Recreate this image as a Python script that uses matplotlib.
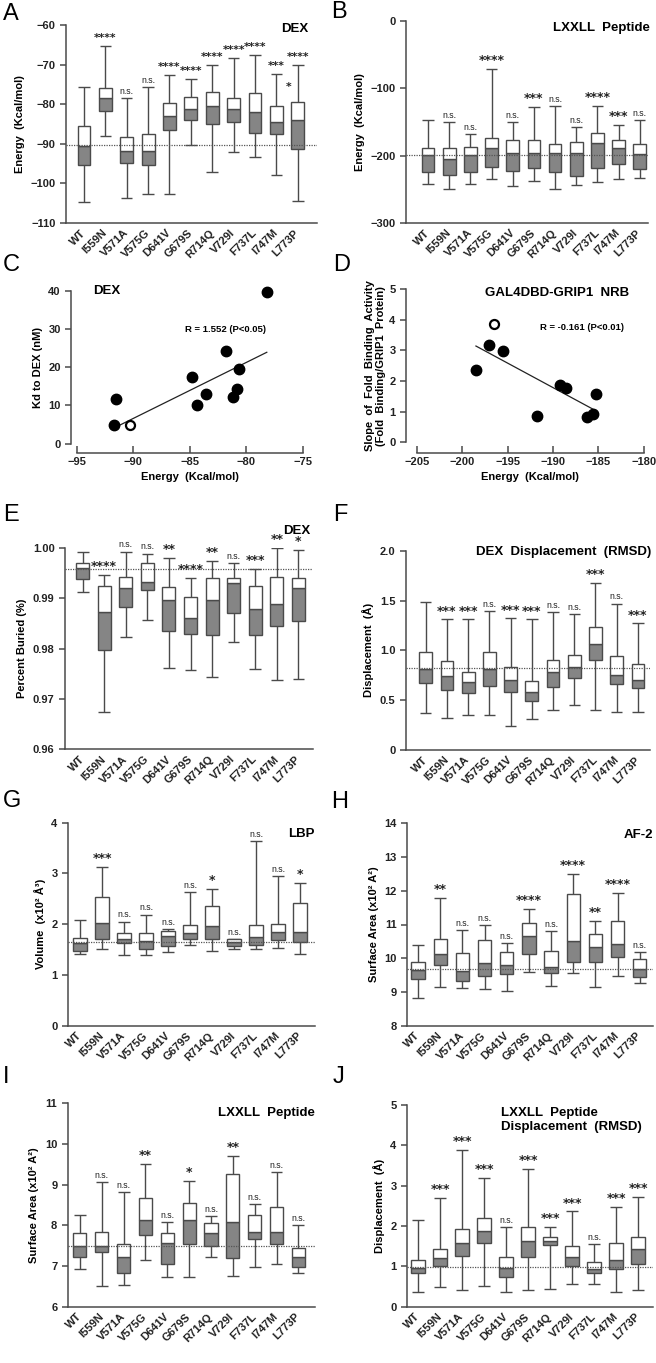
import numpy as np
import matplotlib.pyplot as plt

plt.rcParams['font.family'] = ['Liberation Sans', 'DejaVu Sans']
plt.rcParams['font.weight'] = 'bold'
plt.rcParams['axes.labelweight'] = 'bold'

mutants = ['WT', 'I559N', 'V571A', 'V575G', 'D641V', 'G679S', 'R714Q',
           'V729I', 'F737L', 'I747M', 'L773P']

# A: DEX energy
a_min = [-104.7, -88.0, -103.8, -102.6, -102.6, -90.2, -97.2, -92.0, -93.3, -98.0, -104.4]
a_q1 = [-95.4, -81.6, -94.8, -95.4, -86.6, -84.1, -84.9, -84.6, -87.2, -87.4, -91.3]
a_med = [-90.5, -78.5, -91.8, -91.8, -83.0, -81.3, -80.5, -81.3, -82.0, -84.6, -83.9]
a_q3 = [-85.6, -76.0, -88.4, -87.4, -79.8, -78.3, -76.8, -78.5, -77.2, -80.5, -79.5]
a_max = [-75.6, -65.2, -78.5, -75.6, -72.7, -73.7, -70.0, -68.4, -67.5, -72.4, -70.0]
a_sig = ['', '****', 'n.s.', 'n.s.', '****', '****', '****', '****', '****', '***', '****']
a_ref = -90.4

# B: LXXLL peptide energy
b_min = [-241.4, -248.9, -241.4, -234.0, -245.4, -237.5, -248.9, -243.0, -239.0, -234.0, -232.5]
b_q1 = [-224.6, -229.0, -224.6, -216.7, -222.6, -218.1, -224.6, -230.5, -218.1, -211.7, -219.6]
b_med = [-199.3, -204.3, -199.3, -188.4, -195.8, -195.8, -195.8, -195.8, -180.5, -188.4, -196.8]
b_q3 = [-188.4, -188.4, -187.0, -174.5, -176.0, -176.0, -182.0, -179.5, -167.0, -176.0, -183.0]
b_max = [-147.2, -149.7, -168.0, -71.4, -149.7, -127.4, -126.4, -157.2, -126.4, -154.7, -147.2]
b_sig = ['', 'n.s.', 'n.s.', '****', 'n.s.', '***', 'n.s.', 'n.s.', '****', '***', 'n.s.']
b_ref = -199.0

# C: Kd vs energy
c_energy = [-78.2, -81.8, -80.7, -80.8, -81.2, -84.8, -83.6, -84.4, -91.5, -91.7]
c_kd = [39.7, 24.3, 19.6, 14.3, 12.3, 17.4, 13.1, 10.2, 11.6, 5.0]
c_wt_energy, c_wt_kd = -90.3, 5.0
c_fit_x = [-91.3, -78.2]
c_fit_y = [4.7, 23.9]

# D: binding slope vs energy
d_energy = [-197.1, -195.5, -198.5, -189.2, -188.6, -185.3, -191.8, -186.2, -185.6]
d_slope = [3.16, 2.99, 2.36, 1.87, 1.78, 1.58, 0.87, 0.84, 0.93]
d_wt_energy, d_wt_slope = -196.5, 3.86
d_fit_x = [-198.5, -185.4]
d_fit_y = [3.14, 1.05]

# E: percent buried
e_min = [.9913, .9674, .9823, .9856, .9762, .9758, .9744, .9814, .9760, .9738, .9740]
e_q1 = [.9939, .9797, .9882, .9917, .9836, .9830, .9827, .9870, .9827, .9845, .9855]
e_med = [.9960, .9873, .9920, .9933, .9897, .9861, .9897, .9930, .9879, .9888, .9920]
e_q3 = [.9970, .9925, .9942, .9970, .9922, .9903, .9940, .9940, .9925, .9943, .9940]
e_max = [.9993, .9946, .9993, .9989, .9981, .9940, .9975, .9970, .9958, 1.0000, .9997]
e_sig = ['', '****', 'n.s.', 'n.s.', '**', '****', '**', 'n.s.', '***', '**', '*']
e_ref = .9959

# F: DEX displacement
f_min = [.37, .32, .35, .35, .24, .31, .40, .45, .40, .38, .38]
f_q1 = [.67, .60, .57, .64, .58, .49, .63, .72, .90, .66, .62]
f_med = [.81, .74, .68, .81, .70, .58, .78, .83, 1.06, .75, .70]
f_q3 = [.98, .89, .78, .98, .83, .69, .90, .95, 1.23, .94, .86]
f_max = [1.49, 1.31, 1.31, 1.39, 1.32, 1.31, 1.38, 1.36, 1.68, 1.47, 1.27]
f_sig = ['', '***', '***', 'n.s.', '***', '***', 'n.s.', 'n.s.', '***', 'n.s.', '***']
f_ref = .82

# G: LBP volume
g_min = [1.41, 1.51, 1.39, 1.39, 1.45, 1.59, 1.48, 1.51, 1.51, 1.54, 1.41]
g_q1 = [1.48, 1.70, 1.62, 1.52, 1.58, 1.70, 1.70, 1.58, 1.59, 1.69, 1.64]
g_med = [1.63, 2.02, 1.70, 1.67, 1.76, 1.82, 1.97, 1.64, 1.75, 1.85, 1.84]
g_q3 = [1.73, 2.53, 1.83, 1.83, 1.87, 1.98, 2.36, 1.70, 1.98, 2.00, 2.42]
g_max = [2.09, 3.12, 2.05, 2.19, 1.90, 2.63, 2.69, 1.71, 3.64, 2.95, 2.82]
g_sig = ['', '***', 'n.s.', 'n.s.', 'n.s.', 'n.s.', '*', 'n.s.', 'n.s.', 'n.s.', '*']
g_ref = 1.655

# H: AF-2 surface area
h_min = [8.83, 9.16, 9.11, 9.08, 9.04, 9.58, 9.19, 9.55, 9.14, 9.47, 9.28]
h_q1 = [9.37, 9.81, 9.32, 9.48, 9.52, 10.12, 9.57, 9.88, 9.90, 10.03, 9.43]
h_med = [9.66, 10.14, 9.61, 9.87, 9.81, 10.66, 9.73, 10.52, 10.32, 10.42, 9.69]
h_q3 = [9.90, 10.58, 10.16, 10.54, 10.19, 11.05, 10.21, 11.89, 10.72, 11.11, 9.97]
h_max = [10.39, 11.80, 10.84, 10.98, 10.45, 11.47, 10.81, 12.49, 11.11, 11.94, 10.17]
h_sig = ['', '**', 'n.s.', 'n.s.', 'n.s.', '****', 'n.s.', '****', '**', '****', 'n.s.']
h_ref = 9.67

# I: LXXLL peptide surface area
i_min = [6.93, 6.51, 6.53, 7.15, 6.74, 6.74, 7.21, 6.76, 6.98, 7.04, 6.84]
i_q1 = [7.23, 7.35, 6.84, 7.76, 7.05, 7.53, 7.50, 7.20, 7.66, 7.53, 6.98]
i_med = [7.50, 7.50, 7.23, 8.13, 7.56, 8.13, 7.80, 8.07, 7.83, 7.84, 7.23]
i_q3 = [7.82, 7.84, 7.53, 8.66, 7.82, 8.54, 8.05, 9.25, 8.25, 8.46, 7.45]
i_max = [8.25, 9.07, 8.81, 9.51, 8.07, 9.10, 8.23, 9.71, 8.52, 9.30, 8.01]
i_sig = ['', 'n.s.', 'n.s.', '**', 'n.s.', '*', 'n.s.', '**', 'n.s.', 'n.s.', 'n.s.']
i_ref = 7.5

# J: LXXLL peptide displacement
j_min = [.37, .50, .41, .52, .37, .41, .45, .56, .56, .37, .41]
j_q1 = [.84, 1.02, 1.26, 1.57, .74, 1.22, 1.53, 1.01, .84, .93, 1.06]
j_med = [.95, 1.20, 1.57, 1.88, .97, 1.64, 1.63, 1.22, .93, 1.17, 1.42]
j_q3 = [1.17, 1.42, 1.92, 2.21, 1.22, 1.98, 1.72, 1.51, 1.10, 1.57, 1.72]
j_max = [2.15, 2.69, 3.88, 3.20, 1.98, 3.41, 1.97, 2.36, 1.55, 2.48, 2.73]
j_sig = ['', '***', '***', '***', 'n.s.', '***', '***', '***', 'n.s.', '***', '***']
j_ref = .99

W, H = 656, 1363
fig = plt.figure(figsize=(W / 100, H / 100), dpi=100)
EC = '#4a4a4a'
GRAY = '#858585'
LW = 1.0


def add_ax(l, t, r, b):
    ax = fig.add_axes([l / W, 1 - b / H, (r - l) / W, (b - t) / H])
    for s in ['top', 'right']:
        ax.spines[s].set_visible(False)
    for s in ['left', 'bottom']:
        ax.spines[s].set_color(EC)
        ax.spines[s].set_linewidth(1.1)
    ax.tick_params(labelsize=8, width=1.1, length=4)
    ax.tick_params(axis='both', colors=EC, labelcolor='#222222')
    return ax


def ftext(x, y, s, **kw):
    fig.text(x / W, 1 - y / H, s, **kw)


def boxes(ax, mn, q1, md, q3, mx, ref, sig, ylim, yticks, ylabel, xlim,
          ytl=None, star_size=9):
    x = np.arange(len(mutants))
    ax.vlines(x, mn, q1, color=EC, lw=LW, zorder=2)
    ax.vlines(x, q3, mx, color=EC, lw=LW, zorder=2)
    ax.hlines(mn, x - 0.27, x + 0.27, color=EC, lw=LW, zorder=2)
    ax.hlines(mx, x - 0.27, x + 0.27, color=EC, lw=LW, zorder=2)
    ax.bar(x, np.subtract(md, q1), bottom=q1, width=0.6, color=GRAY,
           edgecolor=EC, lw=LW, zorder=2)
    ax.bar(x, np.subtract(q3, md), bottom=md, width=0.6, color='white',
           edgecolor=EC, lw=LW, zorder=2)
    ax.axhline(ref, color='#555555', ls=(0, (1, 1)), lw=0.9, zorder=3)
    for xi, m, s in zip(x, mx, sig):
        if not s:
            continue
        if '*' in s:
            ax.annotate(s, (xi, m), xytext=(0, 3.5), textcoords='offset points',
                        ha='center', va='baseline', fontsize=star_size,
                        family='DejaVu Sans', color='#222222')
        else:
            ax.annotate(s, (xi, m), xytext=(0, 3), textcoords='offset points',
                        ha='center', va='baseline', fontsize=6.3,
                        fontweight='normal', color='#222222')
    ax.set_xlim(xlim)
    ax.set_ylim(ylim)
    ax.set_yticks(yticks)
    if ytl is not None:
        ax.set_yticklabels(ytl)
    ax.set_xticks(x)
    ax.set_xticklabels(mutants, rotation=45, ha='right', va='center',
                       rotation_mode='anchor', fontsize=8)
    ax.tick_params(axis='x', length=0, pad=6)
    ax.set_ylabel(ylabel, fontsize=8)


# A
ax = add_ax(66, 25, 317, 223)
boxes(ax, a_min, a_q1, a_med, a_q3, a_max, a_ref, a_sig, (-110, -60),
      np.arange(-110, -59, 10), 'Energy  (Kcal/mol)', (-0.84, 10.9),
      star_size=7.8)
ax.text(9.55, -76.5, '*', ha='center', va='baseline', fontsize=7.8,
        family='DejaVu Sans', color='#222222')
ftext(308, 29, 'DEX', ha='right', va='center', fontsize=9.5)

# B
ax = add_ax(406, 21, 648, 223)
boxes(ax, b_min, b_q1, b_med, b_q3, b_max, b_ref, b_sig, (-300, 0),
      [-300, -200, -100, 0], 'Energy  (Kcal/mol)', (-1.04, 10.39))
ftext(650, 28, 'LXXLL  Peptide', ha='right', va='center', fontsize=9.5)

# C
ax = add_ax(76.7, 290.7, 303, 443.7)
ax.spines['left'].set_position(('outward', 4))
ax.spines['bottom'].set_position(('outward', 6.5))
ax.plot(c_fit_x, c_fit_y, color='#222222', lw=0.9)
ax.plot(c_energy, c_kd, 'o', color='black', ms=7.5, clip_on=False)
ax.plot(c_wt_energy, c_wt_kd, 'o', mfc='white', mec='black', mew=1.6, ms=6.5)
ax.set_xlim(-95, -75)
ax.set_ylim(0, 40)
ax.set_xticks(np.arange(-95, -74, 5))
ax.set_yticks(np.arange(0, 41, 10))
ax.tick_params(axis='x', direction='in', length=5, pad=3)
ax.set_xlabel('Energy  (Kcal/mol)', fontsize=8)
ax.set_ylabel('Kd to DEX (nM)', fontsize=8)
ftext(93, 291, 'DEX', ha='left', va='center', fontsize=9.5)
ftext(185, 329, 'R = 1.552 (P<0.05)', ha='left', va='center', fontsize=6.8)

# D
ax = add_ax(417, 289, 643.7, 442.3)
ax.spines['left'].set_position(('outward', 8))
ax.spines['bottom'].set_position(('outward', 7.5))
ax.plot(d_fit_x, d_fit_y, color='#222222', lw=0.9)
ax.plot(d_energy, d_slope, 'o', color='black', ms=7.5)
ax.plot(d_wt_energy, d_wt_slope, 'o', mfc='white', mec='black', mew=1.6, ms=6.5)
ax.set_xlim(-205, -180)
ax.set_ylim(0, 5)
ax.set_xticks(np.arange(-205, -179, 5))
ax.set_yticks(np.arange(0, 6, 1))
ax.tick_params(axis='x', direction='in', length=5, pad=3)
ax.set_xlabel('Energy  (Kcal/mol)', fontsize=8)
ax.set_ylabel('Slope  of  Fold  Binding  Activity\n(Fold  Binding/GRIP1  Protein)',
              fontsize=8, labelpad=2)
ftext(485, 293, 'GAL4DBD-GRIP1  NRB', ha='left', va='center', fontsize=9.5)
ftext(540, 328, 'R = -0.161 (P<0.01)', ha='left', va='center', fontsize=6.8)

# E
ax = add_ax(65, 548, 313, 749.3)
boxes(ax, e_min, e_q1, e_med, e_q3, e_max, e_ref, e_sig, (0.96, 1.0),
      [0.96, 0.97, 0.98, 0.99, 1.00], 'Percent Buried (%)', (-0.82, 10.68),
      ytl=['0.96', '0.97', '0.98', '0.99', '1.00'])
ftext(310, 531, 'DEX', ha='right', va='center', fontsize=9.5)

# F
ax = add_ax(406, 550.7, 650, 750)
boxes(ax, f_min, f_q1, f_med, f_q3, f_max, f_ref, f_sig, (0, 2),
      [0, 0.5, 1.0, 1.5, 2.0], 'Displacement  (Å)', (-0.93, 10.57),
      ytl=['0', '0.5', '1.0', '1.5', '2.0'])
ftext(651, 552, 'DEX  Displacement  (RMSD)', ha='right', va='center', fontsize=9.5)

# G
ax = add_ax(68, 822.7, 315, 1025.7)
boxes(ax, g_min, g_q1, g_med, g_q3, g_max, g_ref, g_sig, (0, 4),
      np.arange(0, 5), 'Volume  (x10² Å³)', (-0.55, 10.68))
ftext(315, 834, 'LBP', ha='right', va='center', fontsize=9.5)

# H
ax = add_ax(407, 823.3, 653, 1025.7)
boxes(ax, h_min, h_q1, h_med, h_q3, h_max, h_ref, h_sig, (8, 14),
      np.arange(8, 15), 'Surface Area (x10² A²)', (-0.5, 10.6))
ftext(653, 835, 'AF-2', ha='right', va='center', fontsize=9.5)

# I
ax = add_ax(67.7, 1103.3, 315, 1306.7)
boxes(ax, i_min, i_q1, i_med, i_q3, i_max, i_ref, i_sig, (6, 11),
      np.arange(6, 12), 'Surface Area (x10² A²)', (-0.56, 10.76))
ftext(315, 1113, 'LXXLL  Peptide', ha='right', va='center', fontsize=9.5)

# J
ax = add_ax(407, 1105, 653, 1306.7)
boxes(ax, j_min, j_q1, j_med, j_q3, j_max, j_ref, j_sig, (0, 5),
      np.arange(0, 6), 'Displacement  (Å)', (-0.5, 10.68))
ftext(501, 1120, 'LXXLL  Peptide\nDisplacement  (RMSD)', ha='left', va='center',
      fontsize=9.5, linespacing=1.3)

# panel letters
for lab, px, py in [('A', 3, 14), ('B', 331, 12), ('C', 3, 265), ('D', 333, 265),
                    ('E', 3, 515), ('F', 333, 515), ('G', 3, 801), ('H', 331, 802),
                    ('I', 3, 1077), ('J', 333, 1077)]:
    ftext(px, py, lab, ha='left', va='center', fontsize=17, fontweight='normal')

fig.savefig('out.png', dpi=100)
